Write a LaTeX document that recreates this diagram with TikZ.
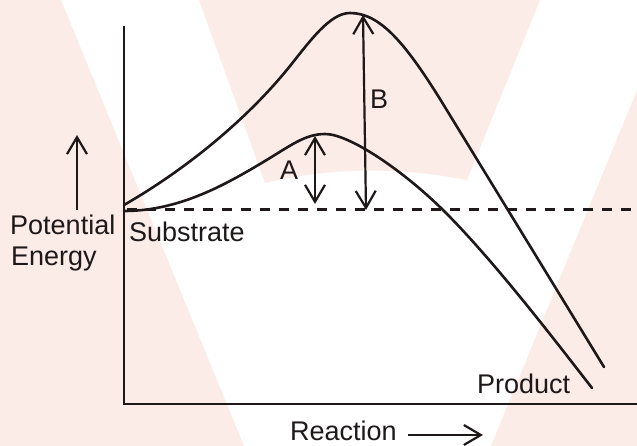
\documentclass[tikz,border=0pt]{standalone}
\usepackage{fontspec}
\setmainfont{Liberation Sans}
\usetikzlibrary{arrows.meta}
\definecolor{wmpink}{RGB}{251,236,232}
\definecolor{ink}{RGB}{30,24,25}
\begin{document}
\begin{tikzpicture}[x=1pt,y=-1pt,
  curve/.style={draw=ink,line width=2.6pt,line cap=round},
  axisline/.style={draw=ink,line width=2.7pt},
  dimarrow/.style={draw=ink,line width=2.2pt,{Straight Barb[length=17pt,width=20pt,line width=2.2pt]}-{Straight Barb[length=17pt,width=20pt,line width=2.2pt]}},
  onearrow/.style={draw=ink,line width=2.2pt,-{Straight Barb[length=17pt,width=20pt,line width=2.2pt]}},
  lbl/.style={inner sep=0pt,anchor=base west,text=ink,font=\fontsize{27}{32}\selectfont}]
\useasboundingbox (0,0) rectangle (637,446);
% watermark background
\fill[white] (0,0) rectangle (637,446);
\fill[wmpink] (0,0) -- (61,0) -- (244,446) -- (0,446) -- cycle;
\fill[wmpink] (199,0) -- (540,0) -- (467,180) .. controls (400,167) and (330,167) .. (265,183) -- cycle;
\fill[wmpink] (674,0) -- (491,446) -- (637,446) -- (637,0) -- cycle;
% axes
\coordinate (ytop) at (124,26);
\coordinate (origin) at (124,404);
\coordinate (xend) at (637,404);
\draw[axisline] (ytop) -- (origin) -- (xend);
% substrate level
\coordinate (sl) at (127,210);
\coordinate (sr) at (637,210);
\draw[draw=ink,line width=3pt,dash pattern=on 10pt off 9pt] (sl) -- (sr);
% uncatalysed curve
\coordinate (u0) at (124,205);
\coordinate (u1) at (290,66);
\coordinate (u2) at (350,13);
\coordinate (u3) at (440,99);
\coordinate (u4) at (604,367);
\draw[curve] (u0) .. controls (190,167) and (250,116) .. (u1)
  .. controls (310,41) and (330,13) .. (u2)
  .. controls (380,13) and (405,43) .. (u3) -- (u4);
% catalysed curve
\coordinate (l0) at (124,211);
\coordinate (l1) at (265,161);
\coordinate (l2) at (325,134);
\coordinate (l3) at (445,212);
\coordinate (l4) at (592,388);
\draw[curve] (l0) .. controls (179,211) and (225,185) .. (l1)
  .. controls (290,146) and (305,134) .. (l2)
  .. controls (350,134) and (405,172) .. (l3)
  .. controls (495,262) and (557,343) .. (l4);
% dimension arrows
\coordinate (Atop) at (315,136);
\coordinate (Abot) at (315,204);
\coordinate (Btop) at (363,15);
\coordinate (Bbot) at (366,210);
\draw[dimarrow] (Abot) -- (Atop);
\draw[dimarrow] (Bbot) -- (Btop);
\node[lbl] (A) at (280,180) {A};
\node[lbl] (B) at (370,109) {B};
% axis labels
\coordinate (peb) at (77,210);
\coordinate (pet) at (77,135);
\draw[onearrow] (peb) -- (pet);
\node[lbl] (pot) at (10,235) {Potential};
\node[lbl] (ene) at (11,266) {Energy};
\node[lbl] (sub) at (129,242) {Substrate};
\node[lbl] (prod) at (477,393) {Product};
\node[lbl] (react) at (290,440) {Reaction};
\coordinate (ra) at (408,435);
\coordinate (rb) at (483,435);
\draw[onearrow] (ra) -- (rb);
\end{tikzpicture}
\end{document}
